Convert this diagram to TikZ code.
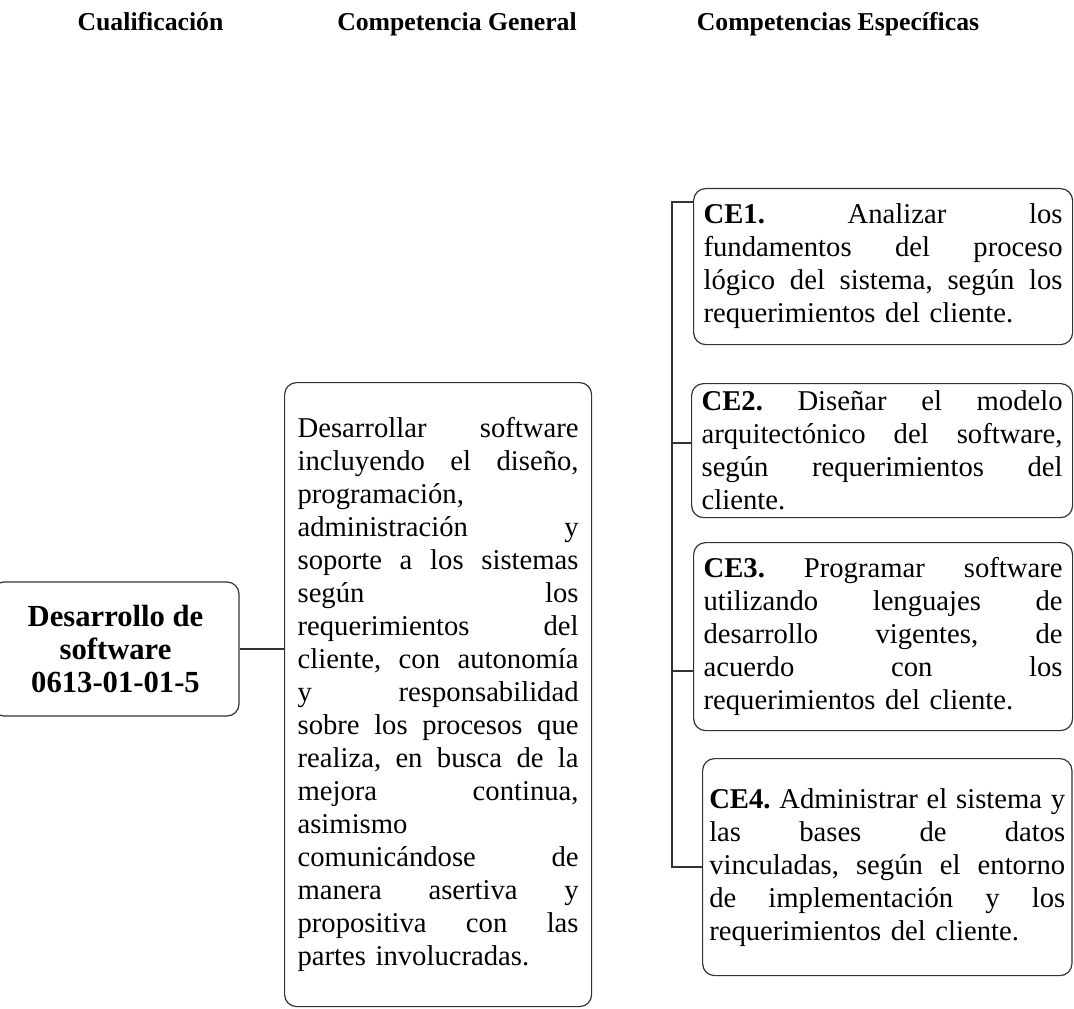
\documentclass[tikz,border=0pt]{standalone}
\usepackage{fontspec}
\setmainfont{Liberation Serif}
\usepackage{tikz}

% one justified line of a box
\newcommand{\jl}[1]{{\spaceskip=0pt\xspaceskip=0pt\makebox[\hsize][s]{#1}}}

\begin{document}
\begin{tikzpicture}[x=0.75pt,y=0.75pt,yscale=-1,xscale=1,
  cbox/.style={draw=black!80, line width=0.9pt, rounded corners=9pt, align=left,
    inner xsep=7.5pt, inner ysep=0pt, anchor=north west,
    font=\fontsize{21.5}{24.75}\selectfont\frenchspacing},
  qbox/.style={draw=black!80, line width=0.9pt, rounded corners=9pt, align=center,
    font=\fontsize{23}{24.75}\selectfont\bfseries},
  head/.style={anchor=base, font=\fontsize{19.3}{22}\selectfont\bfseries},
  link/.style={draw=black!80, line width=0.9pt}]
\useasboundingbox (0,0) rectangle (1074,1009);
\clip (0,0) rectangle (1074,1009);

% Headers
\node[head] (h1) at (150.5,31) {Cualificación};
\node[head] (h2) at (457,31) {Competencia General};
\node[head] (h3) at (838,31) {Competencias Específicas};

% Cualificacion
\node[qbox, minimum width=185.25pt, minimum height=100.5pt] (qual) at (115.5,649)
  {Desarrollo de\\software\\0613-01-01-5};

% Competencia general
\node[cbox, text width=210.75pt, inner xsep=9.75pt, minimum height=468pt] (gen) at (284,382) {%
  \jl{Desarrollar software}\\
  \jl{incluyendo el diseño,}\\
  programación,\\
  \jl{administración y}\\
  \jl{soporte a los sistemas}\\
  \jl{según los}\\
  \jl{requerimientos del}\\
  \jl{cliente, con autonomía}\\
  \jl{y responsabilidad}\\
  \jl{sobre los procesos que}\\
  \jl{realiza, en busca de la}\\
  \jl{mejora continua,}\\
  asimismo\\
  \jl{comunicándose de}\\
  \jl{manera asertiva y}\\
  \jl{propositiva con las}\\
  partes involucradas.};

% Competencias especificas
\node[cbox, text width=269.25pt, minimum height=117pt] (ce1) at (693,188) {%
  \jl{\textbf{CE1.} Analizar los}\\
  \jl{fundamentos del proceso}\\
  \jl{lógico del sistema, según los}\\
  requerimientos del cliente.};
\node[cbox, text width=270.75pt, minimum height=100.5pt] (ce2) at (691,383) {%
  \jl{\textbf{CE2.} Diseñar el modelo}\\
  \jl{arquitectónico del software,}\\
  \jl{según requerimientos del}\\
  cliente.};
\node[cbox, text width=269.25pt, minimum height=141pt] (ce3) at (693,542) {%
  \jl{\textbf{CE3.} Programar software}\\
  \jl{utilizando lenguajes de}\\
  \jl{desarrollo vigentes, de}\\
  \jl{acuerdo con los}\\
  requerimientos del cliente.};
\node[cbox, text width=267pt, inner xsep=5pt, minimum height=162.75pt] (ce4) at (702,758) {%
  \jl{\textbf{CE4.} Administrar el sistema y}\\
  \jl{las bases de datos}\\
  \jl{vinculadas, según el entorno}\\
  \jl{de implementación y los}\\
  requerimientos del cliente.};

% Connectors
\draw[link] (qual.east) -- (qual.east -| gen.west);

\coordinate (t1) at (672,202);
\coordinate (t2) at (672,443);
\coordinate (t3) at (672,671);
\coordinate (t4) at (672,867);
\draw[link] (t1 -| ce1.west) -- (t1) -- (t4) -- (t4 -| ce4.west);
\draw[link] (t2) -- (t2 -| ce2.west);
\draw[link] (t3) -- (t3 -| ce3.west);

\end{tikzpicture}
\end{document}
